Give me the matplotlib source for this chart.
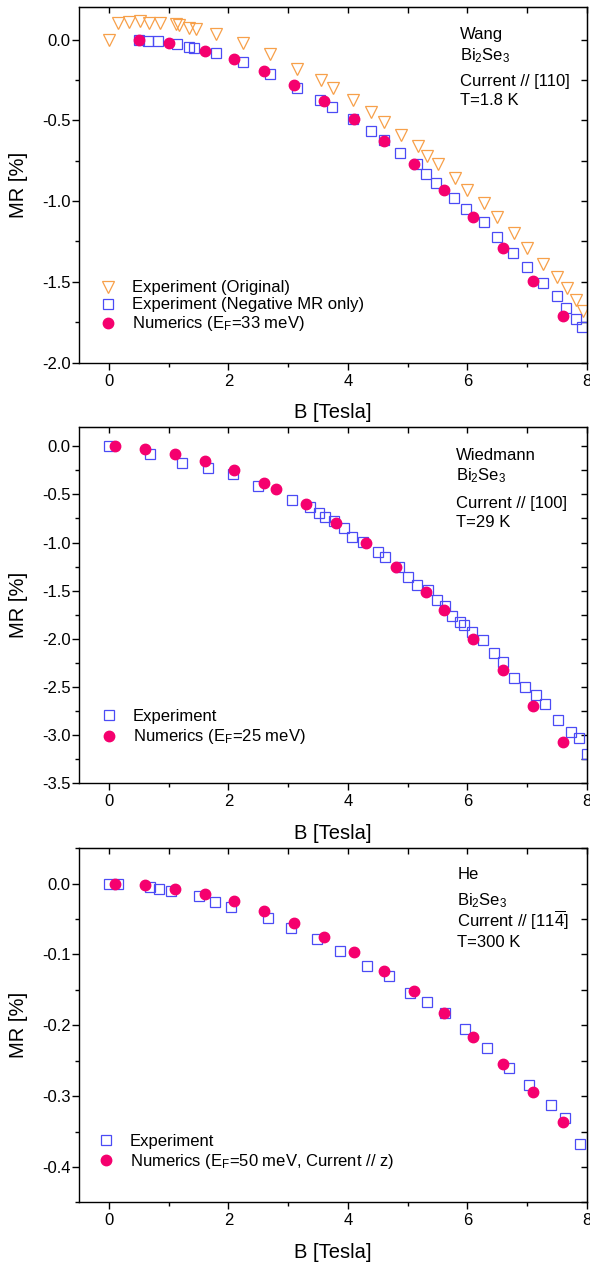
import numpy as np
import matplotlib
matplotlib.use("Agg")
import matplotlib.pyplot as plt
from matplotlib.ticker import MultipleLocator

plt.rcParams['font.family'] = ['Liberation Sans', 'DejaVu Sans']
plt.rcParams['mathtext.fontset'] = 'custom'
plt.rcParams['mathtext.rm'] = 'Liberation Sans'
plt.rcParams['mathtext.it'] = 'Liberation Sans'
plt.rcParams['mathtext.bf'] = 'Liberation Sans:bold'
plt.rcParams['axes.unicode_minus'] = False

# Wang, Bi2Se3, T=1.8 K
wang_orig_B = [0.0, 0.16, 0.34, 0.52, 0.67, 0.85, 1.13, 1.18, 1.34, 1.45, 1.80, 2.25, 2.69,
               3.15, 3.55, 3.75, 4.09, 4.39, 4.61, 4.89, 5.17, 5.32, 5.50, 5.79, 5.99, 6.28,
               6.50, 6.78, 7.00, 7.27, 7.50, 7.66, 7.82, 7.94]
wang_orig_MR = [0.0, 0.104, 0.11, 0.117, 0.104, 0.104, 0.096, 0.09, 0.075, 0.065, 0.034, -0.024,
                -0.09, -0.18, -0.25, -0.30, -0.375, -0.45, -0.51, -0.59, -0.66, -0.72, -0.77,
                -0.86, -0.93, -1.01, -1.10, -1.20, -1.29, -1.39, -1.47, -1.54, -1.61, -1.68]
wang_neg_B = [0.51, 0.66, 0.83, 1.14, 1.34, 1.42, 1.80, 2.24, 2.69, 3.15, 3.54, 3.73, 4.09,
              4.39, 4.60, 4.87, 5.15, 5.31, 5.48, 5.78, 5.98, 6.27, 6.49, 6.77, 7.00, 7.26,
              7.49, 7.65, 7.81, 7.92]
wang_neg_MR = [0.0, -0.01, -0.01, -0.03, -0.045, -0.05, -0.085, -0.14, -0.216, -0.30, -0.375,
               -0.416, -0.49, -0.567, -0.62, -0.705, -0.77, -0.83, -0.89, -0.98, -1.05, -1.13,
               -1.22, -1.32, -1.41, -1.51, -1.59, -1.66, -1.73, -1.78]
wang_num_B = [0.5, 1.0, 1.6, 2.1, 2.6, 3.1, 3.6, 4.1, 4.6, 5.1, 5.6, 6.1, 6.6, 7.1, 7.6]
wang_num_MR = [0.0, -0.02, -0.07, -0.12, -0.195, -0.28, -0.38, -0.49, -0.63, -0.77, -0.93,
               -1.10, -1.29, -1.495, -1.71]

# Wiedmann, Bi2Se3, T=29 K
wied_exp_B = [0.0, 0.69, 1.22, 1.66, 2.07, 2.49, 3.06, 3.37, 3.51, 3.62, 3.76, 3.93, 4.07,
              4.26, 4.50, 4.62, 4.85, 5.01, 5.15, 5.34, 5.49, 5.62, 5.74, 5.87, 5.94, 6.08,
              6.26, 6.44, 6.60, 6.78, 6.97, 7.15, 7.29, 7.52, 7.73, 7.87, 8.0]
wied_exp_MR = [0.0, -0.076, -0.17, -0.22, -0.29, -0.41, -0.56, -0.63, -0.69, -0.73, -0.78,
               -0.85, -0.94, -0.99, -1.10, -1.15, -1.25, -1.36, -1.44, -1.49, -1.60, -1.66,
               -1.77, -1.83, -1.86, -1.93, -2.01, -2.15, -2.24, -2.41, -2.50, -2.59, -2.68,
               -2.85, -2.97, -3.04, -3.20]
wied_num_B = [0.1, 0.6, 1.1, 1.6, 2.1, 2.6, 2.8, 3.3, 3.8, 4.3, 4.8, 5.3, 5.6, 6.1, 6.6, 7.1, 7.6]
wied_num_MR = [0.0, -0.03, -0.08, -0.15, -0.25, -0.38, -0.44, -0.60, -0.80, -1.01, -1.25,
               -1.52, -1.70, -2.00, -2.33, -2.70, -3.08]

# He, Bi2Se3, T=300 K
he_exp_B = [0.0, 0.15, 0.68, 0.84, 1.04, 1.50, 1.78, 2.05, 2.66, 3.04, 3.49, 3.86, 4.32, 4.68,
            5.04, 5.32, 5.62, 5.96, 6.33, 6.70, 7.03, 7.39, 7.64, 7.89]
he_exp_MR = [0.0, 0.0, -0.004, -0.007, -0.011, -0.017, -0.026, -0.033, -0.049, -0.063, -0.078,
             -0.095, -0.116, -0.130, -0.155, -0.167, -0.183, -0.205, -0.232, -0.261, -0.285,
             -0.312, -0.331, -0.368]
he_num_B = [0.1, 0.6, 1.1, 1.6, 2.1, 2.6, 3.1, 3.6, 4.1, 4.6, 5.1, 5.6, 6.1, 6.6, 7.1, 7.6]
he_num_MR = [0.0, -0.002, -0.007, -0.015, -0.025, -0.039, -0.056, -0.076, -0.097, -0.123,
             -0.152, -0.182, -0.217, -0.254, -0.294, -0.337]

c_orig = '#F7A04A'
c_exp = '#4B4BF5'
c_num = '#F5006E'
fs = 12


def style_axes(ax, ylim, ymaj, ymin):
    ax.set_xlim(-0.5, 8)
    ax.set_ylim(*ylim)
    ax.xaxis.set_major_locator(MultipleLocator(2))
    ax.xaxis.set_minor_locator(MultipleLocator(1))
    ax.yaxis.set_major_locator(MultipleLocator(ymaj))
    ax.yaxis.set_minor_locator(MultipleLocator(ymin))
    ax.tick_params(which='major', direction='out', length=5, width=1, labelsize=fs, pad=3)
    ax.tick_params(which='minor', direction='out', length=3, width=1)
    ax.tick_params(axis='y', which='major', pad=1)
    for s in ax.spines.values():
        s.set_linewidth(1.0)
    top = ax.secondary_xaxis('top')
    top.xaxis.set_major_locator(MultipleLocator(2))
    top.xaxis.set_minor_locator(MultipleLocator(1))
    top.tick_params(which='both', direction='in', length=4.5, width=1, labeltop=False)
    right = ax.secondary_yaxis('right')
    right.yaxis.set_major_locator(MultipleLocator(ymaj))
    right.yaxis.set_minor_locator(MultipleLocator(ymin))
    right.tick_params(which='both', direction='in', length=4.5, width=1, labelright=False)
    ax.set_xlabel('B [Tesla]', fontsize=14.5)
    ax.set_ylabel('MR [%]', fontsize=14.5)
    ax.xaxis.set_label_coords(0.5, -0.115)
    ax.yaxis.set_label_coords(-0.1, 0.5)


def info(ax, lines, xs, ys):
    for t, y in zip(lines, ys):
        ax.text(xs, y, t, transform=ax.transAxes, fontsize=fs, va='baseline', ha='left')


fig = plt.figure(figsize=(5.9, 12.64), dpi=100)
ax1 = fig.add_axes([0.1339, 0.7132, 0.861, 0.281])
ax2 = fig.add_axes([0.1339, 0.3808, 0.861, 0.2812])
ax3 = fig.add_axes([0.1339, 0.0488, 0.861, 0.2801])

mk = dict(linestyle='none')
leg = dict(loc='lower left', frameon=False, fontsize=fs, borderpad=0, borderaxespad=0,
           handlelength=1.0, handletextpad=0.95)

# panel 1
ax1.plot(wang_orig_B, wang_orig_MR, marker='v', ms=8.5, mfc='none', mec=c_orig, mew=0.9,
         label='Experiment (Original)', **mk)
ax1.plot(wang_neg_B, wang_neg_MR, marker='s', ms=6.5, mfc='none', mec=c_exp, mew=0.9,
         label='Experiment (Negative MR only)', **mk)
ax1.plot(wang_num_B, wang_num_MR, marker='o', ms=7.5, mfc=c_num, mec=c_num,
         label='Numerics (E$_\\mathrm{F}$=33 meV)', **mk)
style_axes(ax1, (-2.0, 0.2), 0.5, 0.25)
ax1.legend(bbox_to_anchor=(0.04, 0.082), labelspacing=0.12, **leg)
info(ax1, ['Wang', 'Bi$_2$Se$_3$', 'Current // [110]', 'T=1.8 K'], 0.75,
     [0.911, 0.852, 0.778, 0.724])

# panel 2
ax2.plot(wied_exp_B, wied_exp_MR, marker='s', ms=6.5, mfc='none', mec=c_exp, mew=0.9,
         label='Experiment', **mk)
ax2.plot(wied_num_B, wied_num_MR, marker='o', ms=7.5, mfc=c_num, mec=c_num,
         label='Numerics (E$_\\mathrm{F}$=25 meV)', **mk)
style_axes(ax2, (-3.5, 0.2), 0.5, 0.25)
ax2.legend(bbox_to_anchor=(0.042, 0.102), labelspacing=0.2, **leg)
info(ax2, ['Wiedmann', 'Bi$_2$Se$_3$', 'Current // [100]', 'T=29 K'], 0.742,
     [0.908, 0.850, 0.774, 0.718])

# panel 3
ax3.plot(he_exp_B, he_exp_MR, marker='s', ms=6.5, mfc='none', mec=c_exp, mew=0.9,
         label='Experiment', **mk)
ax3.plot(he_num_B, he_num_MR, marker='o', ms=7.5, mfc=c_num, mec=c_num,
         label='Numerics (E$_\\mathrm{F}$=50 meV, Current // z)', **mk)
style_axes(ax3, (-0.45, 0.05), 0.1, 0.05)
ax3.legend(bbox_to_anchor=(0.036, 0.088), labelspacing=0.2, **leg)
info(ax3, ['He', 'Bi$_2$Se$_3$', 'Current // [11$\\overline{4}$]', 'T=300 K'], 0.745,
     [0.913, 0.838, 0.777, 0.722])

fig.savefig('out.png', dpi=100)
